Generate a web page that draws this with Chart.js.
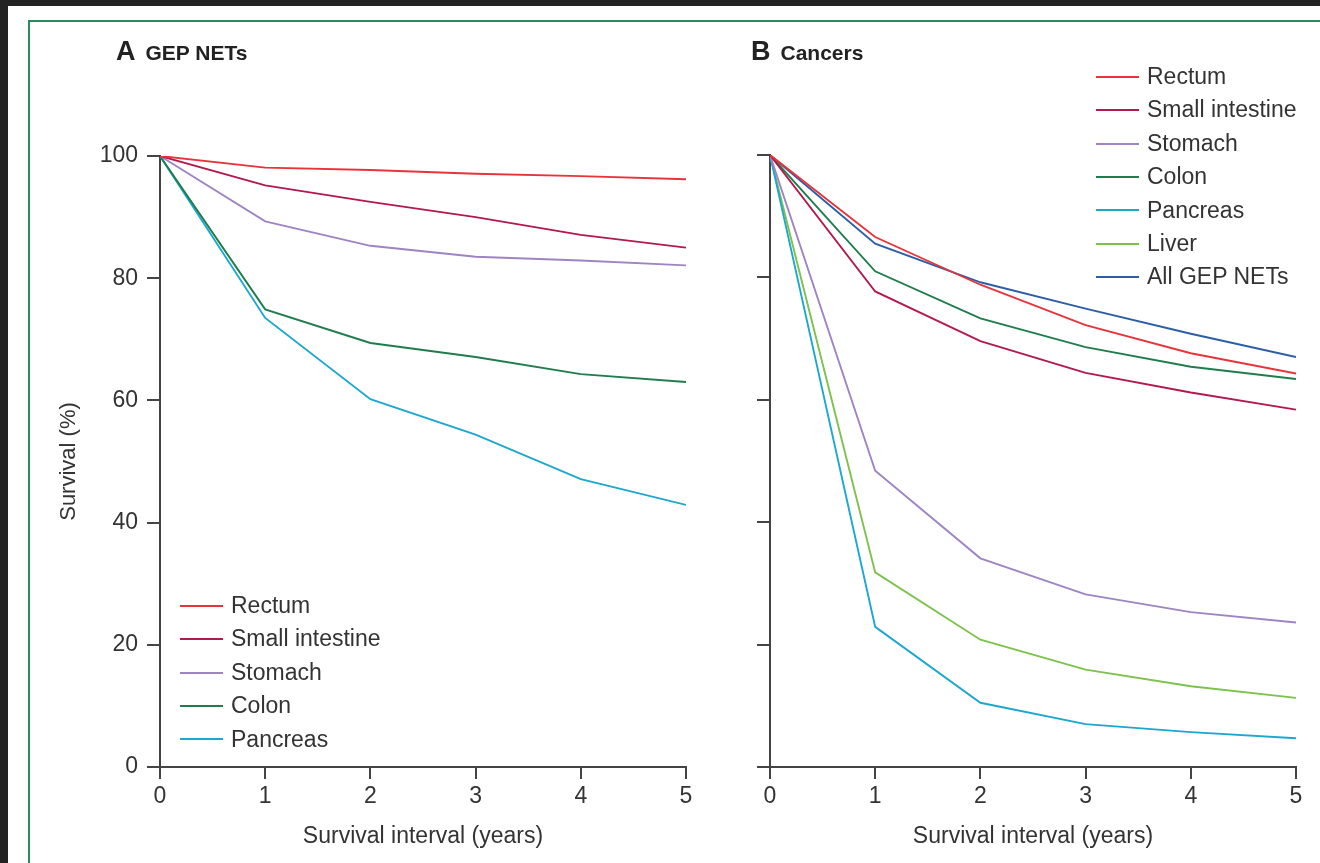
<!DOCTYPE html>
<html>
<head>
<meta charset="utf-8">
<script src="https://cdn.jsdelivr.net/npm/chart.js@4"></script>
<style>
  body { margin: 0; background: #232323; width: 1320px; height: 863px; overflow: hidden; font-family: "Liberation Sans", Arial, sans-serif; color: #333; }
  #page { position: absolute; left: 8px; top: 6px; width: 1320px; height: 870px; background: #fff; }
  #frame { position: absolute; left: 28px; top: 20px; width: 1320px; height: 900px; border: 2px solid #2b8a5f; }
  canvas { position: absolute; top: 0; }
  .panel { position: absolute; top: 36px; font-weight: bold; color: #222; }
  .panel b { font-size: 27px; font-weight: bold; margin-right: 10px; }
  .panel span { font-size: 21px; }
  .legend { position: absolute; font-size: 23px; color: #333; }
  .legend div { height: 33.4px; line-height: 33.4px; white-space: nowrap; }
  .legend i { display: inline-block; width: 43px; height: 0; border-top: 2px solid; vertical-align: middle; margin-right: 8px; position: relative; top: -1px; }
</style>
</head>
<body>
<div id="page"></div>
<div id="frame"></div>
<canvas id="chartA" width="720" height="863" style="left:0"></canvas>
<canvas id="chartB" width="600" height="863" style="left:720px"></canvas>
<div class="panel" style="left:116px"><b>A</b><span>GEP NETs</span></div>
<div class="panel" style="left:751px"><b>B</b><span>Cancers</span></div>
<div class="legend" id="legendA" style="left:180px; top:589px"></div>
<div class="legend" id="legendB" style="left:1096px; top:60px"></div>
<script>
// years after diagnosis
const years = [0, 1, 2, 3, 4, 5];
const yTicks = [0, 20, 40, 60, 80, 100];

// A - GEP NETs, survival (%)
const netRectum = [100, 98.1, 97.7, 97.1, 96.7, 96.2];
const netSmallIntestine = [100, 95.2, 92.5, 90.0, 87.1, 85.0];
const netStomach = [100, 89.3, 85.3, 83.5, 82.9, 82.1];
const netColon = [100, 74.9, 69.4, 67.1, 64.3, 63.0];
const netPancreas = [100, 73.5, 60.2, 54.4, 47.1, 42.9];

// B - Cancers, survival (%)
const caRectum = [100, 86.6, 78.8, 72.2, 67.6, 64.3];
const caSmallIntestine = [100, 77.7, 69.6, 64.4, 61.2, 58.4];
const caStomach = [100, 48.4, 34.1, 28.2, 25.3, 23.6];
const caColon = [100, 81.0, 73.3, 68.6, 65.4, 63.4];
const caPancreas = [100, 22.9, 10.5, 7.0, 5.7, 4.7];
const caLiver = [100, 31.8, 20.8, 15.9, 13.2, 11.3];
const allGepNets = [100, 85.5, 79.2, 74.9, 70.8, 67.0];

const colors = {
    rectum: "#e8333b",
    smallIntestine: "#b3194b",
    stomach: "#9f84c4",
    colon: "#1f7d4d",
    pancreas: "#1ca7cf",
    liver: "#7dc24b",
    allNets: "#2b5ea7"
};

const textColor = "#333";
const axisColor = "#444";
const font = "'Liberation Sans', Arial, sans-serif";

function series(label, values, color) {
    return {
        label: label,
        data: values.map((v, i) => ({ x: years[i], y: v })),
        borderColor: color,
        backgroundColor: color,
        borderWidth: 1.9,
        pointRadius: 0,
        fill: false,
        tension: 0
    };
}

const setA = [
    series("Rectum", netRectum, colors.rectum),
    series("Small intestine", netSmallIntestine, colors.smallIntestine),
    series("Stomach", netStomach, colors.stomach),
    series("Colon", netColon, colors.colon),
    series("Pancreas", netPancreas, colors.pancreas)
];

const setB = [
    series("Rectum", caRectum, colors.rectum),
    series("Small intestine", caSmallIntestine, colors.smallIntestine),
    series("Stomach", caStomach, colors.stomach),
    series("Colon", caColon, colors.colon),
    series("Pancreas", caPancreas, colors.pancreas),
    series("Liver", caLiver, colors.liver),
    series("All GEP NETs", allGepNets, colors.allNets)
];

function makeOptions(showY, pad, yWidth) {
    return {
        responsive: false,
        animation: false,
        devicePixelRatio: 1,
        layout: { padding: pad },
        plugins: { legend: { display: false }, tooltip: { enabled: false } },
        scales: {
            x: {
                type: "linear",
                min: 0,
                max: 5,
                afterBuildTicks: s => { s.ticks = years.map(v => ({ value: v })); },
                afterFit: s => { s.height = 96; },
                ticks: { color: textColor, font: { family: font, size: 23 }, padding: 4 },
                grid: { drawOnChartArea: false, drawTicks: true, tickLength: 12, color: axisColor, lineWidth: 2 },
                border: { display: true, color: axisColor, width: 2 },
                title: { display: true, text: "Survival interval (years)", color: textColor, font: { family: font, size: 23 }, padding: { top: 0, bottom: 13 } }
            },
            y: {
                min: 0,
                max: 100,
                afterBuildTicks: s => { s.ticks = yTicks.map(v => ({ value: v })); },
                afterFit: s => { s.width = yWidth; },
                ticks: { display: showY, color: textColor, font: { family: font, size: 23 }, padding: 9 },
                grid: { drawOnChartArea: false, drawTicks: true, tickLength: 13, color: axisColor, lineWidth: 2 },
                border: { display: true, color: axisColor, width: 2 },
                title: { display: showY, text: "Survival (%)", color: textColor, font: { family: font, size: 22 }, padding: { top: 56, bottom: 0 } }
            }
        }
    };
}

new Chart(document.getElementById("chartA"), {
    type: "line",
    data: { datasets: setA },
    options: makeOptions(true, { left: 0, top: 156, right: 34, bottom: 0 }, 160)
});

new Chart(document.getElementById("chartB"), {
    type: "line",
    data: { datasets: setB },
    options: makeOptions(false, { left: 0, top: 155, right: 24, bottom: 0 }, 50)
});

// legends built from the datasets
function buildLegend(id, sets) {
    let box = document.getElementById(id);
    sets.forEach(ds => {
        let row = document.createElement("div");
        row.innerHTML = `<i style="border-color:${ds.borderColor}"></i>${ds.label}`;
        box.appendChild(row);
    });
}
buildLegend("legendA", setA);
buildLegend("legendB", setB);
</script>
</body>
</html>
